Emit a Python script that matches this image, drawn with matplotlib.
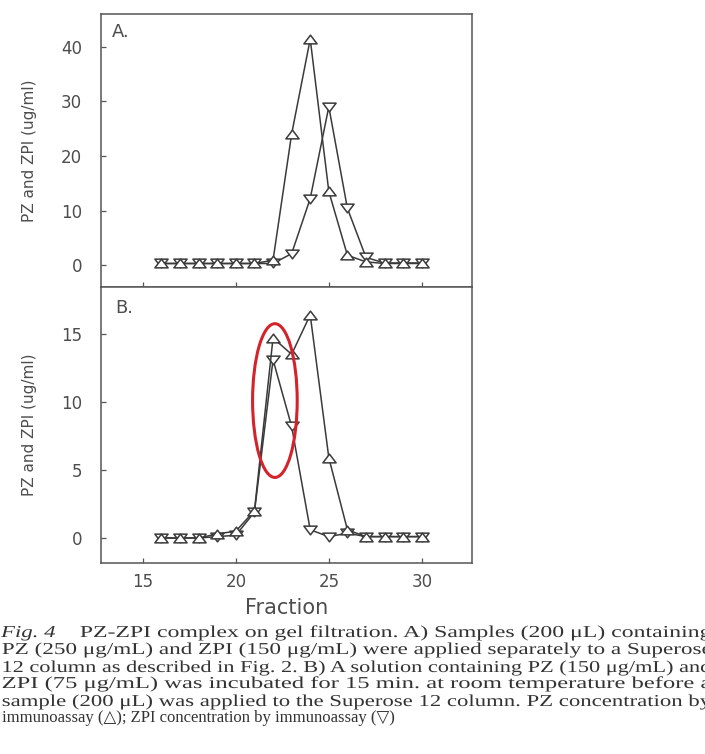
import matplotlib
matplotlib.use("Agg")
import matplotlib.pyplot as plt
from matplotlib.path import Path
from matplotlib.patches import Ellipse
from matplotlib.patheffects import AbstractPathEffect
from matplotlib.transforms import Affine2D

# gel filtration fractions and measured concentrations (ug/ml)
fractions = list(range(16, 31))
pz_a = [0.3, 0.3, 0.3, 0.3, 0.3, 0.3, 0.9, 24.0, 41.4, 13.5, 1.8, 0.6, 0.3, 0.3, 0.3]
zpi_a = [0.3, 0.3, 0.3, 0.3, 0.3, 0.3, 0.3, 2.1, 12.2, 29.0, 10.4, 1.4, 0.4, 0.4, 0.4]
pz_b = [0.0, 0.0, 0.0, 0.3, 0.5, 2.0, 14.7, 13.5, 16.4, 5.9, 0.6, 0.1, 0.1, 0.1, 0.1]
zpi_b = [0.0, 0.0, 0.0, 0.1, 0.2, 1.9, 13.1, 8.2, 0.6, 0.1, 0.35, 0.1, 0.1, 0.1, 0.1]

x_ticks = [15, 20, 25, 30]
a_ticks = [0, 10, 20, 30, 40]
b_ticks = [0, 5, 10, 15]

# PZ-ZPI complex peak circled in panel B
complex_center = (22.1, 10.1)
complex_size = (2.4, 11.3)

caption_head = "Fig. 4"
caption_lines = [
    "PZ-ZPI complex on gel filtration. A) Samples (200 \u03bcL) containing",
    "PZ (250 \u03bcg/mL) and ZPI (150 \u03bcg/mL) were applied separately to a Superose",
    "12 column as described in Fig. 2. B) A solution containing PZ (150 \u03bcg/mL) and",
    "ZPI (75 \u03bcg/mL) was incubated for 15 min. at room temperature before a",
    "sample (200 \u03bcL) was applied to the Superose 12 column. PZ concentration by",
    "immunoassay (\u25b3); ZPI concentration by immunoassay (\u25bd)",
]


class Justify(AbstractPathEffect):
    """Spread a text line so its ink ends at a given x in pixels."""

    def __init__(self, right_px):
        super().__init__()
        self.right_px = right_px

    def draw_path(self, renderer, gc, tpath, affine, rgbFace=None):
        ext = tpath.get_extents(affine)
        sx = (self.right_px - ext.x0) / ext.width
        stretch = Affine2D().translate(-ext.x0, 0).scale(sx, 1).translate(ext.x0, 0)
        renderer.draw_path(gc, tpath, affine + stretch, rgbFace)


# flat, wide triangles
up_tri = Path([(-1, -0.66), (1, -0.66), (0, 0.66), (-1, -0.66)], closed=True)
down_tri = Path([(-1, 0.66), (1, 0.66), (0, -0.66), (-1, 0.66)], closed=True)

ink = "#3a3a3a"
label_color = "#4d4d4d"
plt.rcParams["font.family"] = ["DejaVu Sans"]

fig = plt.figure(figsize=(7.05, 7.54), dpi=100)
ax_a = fig.add_axes([0.1433, 0.6194, 0.5262, 0.3621])
ax_b = fig.add_axes([0.1433, 0.2533, 0.5262, 0.3661])


def draw_panel(ax, pz, zpi):
    style = dict(color=ink, lw=1.1, markersize=9.5, markeredgewidth=1.1,
                 markerfacecolor="white", markeredgecolor=ink)
    ax.plot(fractions, zpi, marker=down_tri, **style)
    ax.plot(fractions, pz, marker=up_tri, **style)
    ax.set_xlim(12.75, 32.7)
    ax.set_xticks(x_ticks)
    for s in ax.spines.values():
        s.set_color("#555555")
        s.set_linewidth(1.1)
    ax.tick_params(direction="in", length=3.5, width=0.9, color="#555555",
                   labelsize=12, labelcolor=label_color)
    ax.tick_params(axis="y", pad=13.5)
    ax.tick_params(axis="x", pad=7)
    ax.set_ylabel("PZ and ZPI (ug/ml)", fontsize=11, color=label_color)
    ax.yaxis.set_label_coords(-0.172, 0.5)


draw_panel(ax_a, pz_a, zpi_a)
ax_a.set_ylim(-4.0, 46.0)
ax_a.set_yticks(a_ticks)
ax_a.tick_params(axis="x", labelbottom=False)
ax_a.text(0.03, 0.934, "A.", transform=ax_a.transAxes, fontsize=13,
          color=label_color, va="center", ha="left")

draw_panel(ax_b, pz_b, zpi_b)
ax_b.set_ylim(-1.84, 18.45)
ax_b.set_yticks(b_ticks)
ax_b.set_xlabel("Fraction", fontsize=15, color=label_color)
ax_b.xaxis.set_label_coords(0.5, -0.125)
ax_b.text(0.038, 0.924, "B.", transform=ax_b.transAxes, fontsize=13,
          color=label_color, va="center", ha="left")
ax_b.add_patch(Ellipse(complex_center, complex_size[0], complex_size[1],
                       fill=False, edgecolor="#d3232b", lw=2.2, zorder=5))

# caption below the plots
serif = ["Liberation Serif", "DejaVu Sans"]
W, H = 705, 754
baselines = [637, 654, 672, 688, 706, 722]
right_edge = 711
head = fig.text(1 / W, 1 - baselines[0] / H, caption_head, fontsize=12, family=serif,
                style="italic", color="#333333", va="baseline", ha="left")
head.set_path_effects([Justify(55)])
for i, line in enumerate(caption_lines):
    x0 = 80 if i == 0 else 2
    t = fig.text(x0 / W, 1 - baselines[i] / H, line, fontsize=12, family=serif,
                 color="#333333", va="baseline", ha="left")
    if i < len(caption_lines) - 1:
        t.set_path_effects([Justify(right_edge)])

fig.savefig("out.png", dpi=100)
